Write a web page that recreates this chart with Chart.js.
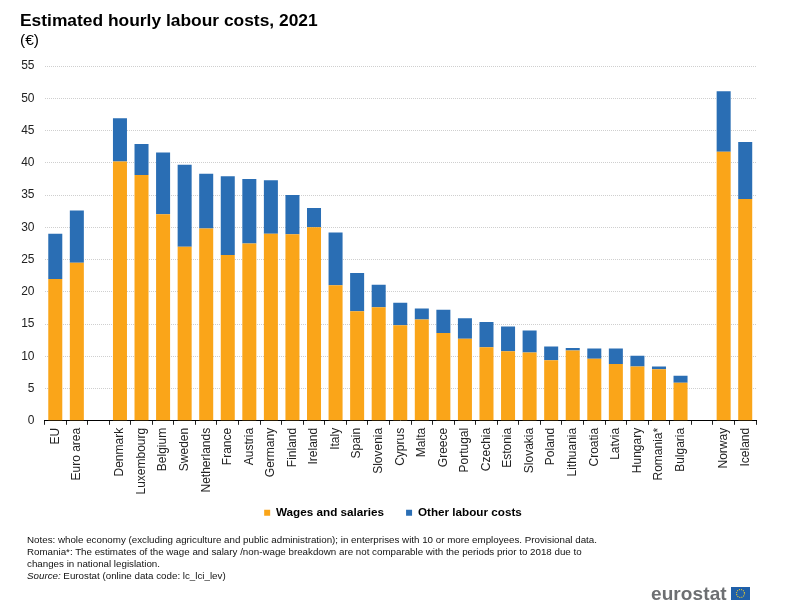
<!DOCTYPE html>
<html>
<head>
<meta charset="utf-8">
<title>Estimated hourly labour costs, 2021</title>
<script src="https://cdn.jsdelivr.net/npm/chart.js@4/dist/chart.umd.min.js"></script>
<style>
  html, body { margin: 0; padding: 0; background: #fff; }
  #wrap { position: relative; width: 800px; height: 612px; overflow: hidden; font-family: "Liberation Sans", Arial, sans-serif; }
  canvas { position: absolute; left: 0; top: 0; }
  #title { position: absolute; left: 20px; top: 10px; font-size: 17.4px; line-height: 20px; font-weight: bold; color: #000; white-space: nowrap; }
  #unit { position: absolute; left: 20px; top: 31px; font-size: 15.5px; line-height: 18px; color: #000; }
  #notes { position: absolute; left: 27px; top: 534px; font-size: 9.77px; line-height: 12px; color: #111; white-space: nowrap; }
  #logo { position: absolute; left: 651px; top: 584px; display: flex; align-items: center; }
  #logo span { font-size: 19px; font-weight: bold; color: #6d6f72; letter-spacing: 0.1px; line-height: 19px; }
  #logo svg { margin-left: 4px; }
</style>
</head>
<body>
<div id="wrap">
  <canvas id="chart" width="800" height="612"></canvas>
  <div id="title">Estimated hourly labour costs, 2021</div>
  <div id="unit">(€)</div>
  <div id="notes">
    Notes: whole economy (excluding agriculture and public administration); in enterprises with 10 or more employees. Provisional data.<br>
    Romania*: The estimates of the wage and salary /non-wage breakdown are not comparable with the periods prior to 2018 due to<br>
    changes in national legislation.<br>
    <i>Source:</i> Eurostat (online data code: lc_lci_lev)
  </div>
  <div id="logo">
    <span>eurostat</span>
    <svg width="19" height="13" viewBox="0 0 19 13"><rect width="19" height="13" fill="#1f5fa8"/><circle cx="9.5" cy="6.5" r="4" fill="none" stroke="#e8c92f" stroke-width="1.2" stroke-dasharray="1 1.1"/></svg>
  </div>
</div>
<script>
const categories = ['EU', 'Euro area', '', 'Denmark', 'Luxembourg', 'Belgium', 'Sweden', 'Netherlands', 'France', 'Austria',
    'Germany', 'Finland', 'Ireland', 'Italy', 'Spain', 'Slovenia', 'Cyprus', 'Malta', 'Greece', 'Portugal', 'Czechia',
    'Estonia', 'Slovakia', 'Poland', 'Lithuania', 'Croatia', 'Latvia', 'Hungary', 'Romania*', 'Bulgaria', '', 'Norway', 'Iceland'];

const wages = [22.0, 24.5, null, 40.2, 38.1, 32.0, 27.0, 29.8, 25.7, 27.5,
    29.0, 28.9, 30.0, 21.0, 17.0, 17.6, 14.8, 15.7, 13.6, 12.7, 11.4,
    10.8, 10.6, 9.4, 10.9, 9.6, 8.8, 8.4, 8.0, 5.9, null, 41.7, 34.4];

const otherCosts = [7.0, 8.1, null, 6.7, 4.8, 9.6, 12.7, 8.5, 12.2, 10.0,
    8.3, 6.1, 3.0, 8.2, 5.9, 3.5, 3.5, 1.7, 3.6, 3.2, 3.9,
    3.8, 3.4, 2.1, 0.4, 1.6, 2.4, 1.7, 0.4, 1.1, null, 9.4, 8.8];

const yTicks = [0, 5, 10, 15, 20, 25, 30, 35, 40, 45, 50, 55];

const FONT = '"Liberation Sans", Arial, sans-serif';

// nudge the legend, the rotated labels need the room above it
const moveLegend = {
    id: 'moveLegend',
    afterLayout(chart) {
        chart.legend.left += 5;
        chart.legend.right += 5;
        chart.legend.top -= 16;
        chart.legend.bottom -= 16;
    }
};

new Chart(document.getElementById('chart').getContext('2d'), {
    type: 'bar',
    data: {
        labels: categories,
        datasets: [{
            label: 'Wages and salaries',
            data: wages,
            backgroundColor: '#FAA519',
            barPercentage: 0.65,
            categoryPercentage: 1
        }, {
            label: 'Other labour costs',
            data: otherCosts,
            backgroundColor: '#2A6EB4',
            barPercentage: 0.65,
            categoryPercentage: 1
        }]
    },
    plugins: [moveLegend],
    options: {
        responsive: false,
        animation: false,
        layout: { padding: { left: 20, right: 44, top: 66, bottom: 67.5 } },
        plugins: {
            tooltip: { enabled: false },
            legend: {
                position: 'bottom',
                labels: {
                    boxWidth: 6,
                    boxHeight: 6,
                    color: '#000',
                    padding: 22,
                    font: { family: FONT, size: 11.7, weight: 'bold' }
                }
            }
        },
        scales: {
            x: {
                stacked: true,
                afterFit: scale => { scale.height = 80; },
                border: { color: '#000', width: 1 },
                grid: { offset: true, drawOnChartArea: false, drawTicks: true, tickLength: 4, color: '#222' },
                ticks: {
                    autoSkip: false,
                    minRotation: 90,
                    maxRotation: 90,
                    padding: 3,
                    color: '#222',
                    font: { family: FONT, size: 12 }
                }
            },
            y: {
                stacked: true,
                min: 0,
                max: 55,
                afterFit: scale => { scale.width = 24.5; },
                afterBuildTicks: scale => { scale.ticks = yTicks.map(v => ({ value: v })); },
                border: { display: false, dash: [1, 1] },
                grid: { color: '#cfcfcf', drawTicks: false, lineWidth: 1 },
                ticks: {
                    padding: 10,
                    color: '#222',
                    font: { family: FONT, size: 12 }
                }
            }
        }
    }
});
</script>
</body>
</html>
